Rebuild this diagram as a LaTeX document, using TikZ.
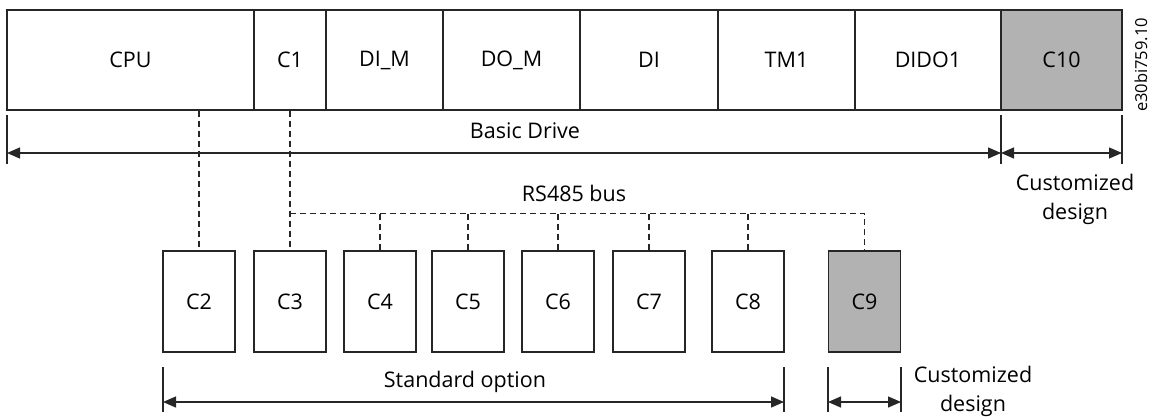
\documentclass[tikz,border=0pt]{standalone}
\usepackage{fontspec}
\setmainfont{Open Sans}
\usetikzlibrary{arrows.meta}
\begin{document}
\begin{tikzpicture}[x=1pt,y=-1pt,
  box/.style={draw=black!85,line width=1.1pt,inner sep=0pt,font=\fontsize{21.5}{24}\selectfont},
  topbox/.style={box,minimum height=100pt},
  botbox/.style={box,minimum width=72pt,minimum height=101pt},
  graybox/.style={fill=black!30},
  dsh/.style={draw=black!85,line width=1.1pt,dash pattern=on 6pt off 4pt},
  dim/.style={draw=black!85,line width=1.3pt,{Triangle[length=13pt,width=11pt]}-{Triangle[length=13pt,width=11pt]}},
  tick/.style={draw=black!85,line width=1.3pt},
  lbl/.style={inner sep=0pt,font=\fontsize{21.5}{29}\selectfont,align=center}]
\useasboundingbox (0,0) rectangle (1155,417);
% top row
\node[topbox,minimum width=247pt] (cpu) at (130.5,60) {CPU};
\node[topbox,minimum width=72pt] (c1) at (290,60) {C1};
\node[topbox,minimum width=117pt] (dim) at (384.5,60) {DI\_M};
\node[topbox,minimum width=137pt] (dom) at (511.5,60) {DO\_M};
\node[topbox,minimum width=138pt] (di) at (649,60) {DI};
\node[topbox,minimum width=137pt] (tm1) at (786.5,60) {TM1};
\node[topbox,minimum width=146pt] (dido1) at (928,60) {DIDO1};
\node[topbox,graybox,minimum width=121pt] (c10) at (1061.5,60) {C10};
\node[inner sep=0pt,rotate=90,font=\fontsize{16.5}{18}\selectfont] (code) at (1141,65) {e30bi759.10};
% bottom row
\node[botbox] (c2) at (199,301.5) {C2};
\node[botbox] (c3) at (290,301.5) {C3};
\node[botbox] (c4) at (380,301.5) {C4};
\node[botbox] (c5) at (468,301.5) {C5};
\node[botbox] (c6) at (558,301.5) {C6};
\node[botbox] (c7) at (649,301.5) {C7};
\node[botbox] (c8) at (748,301.5) {C8};
\node[botbox,graybox] (c9) at (864.5,301.5) {C9};
% dashed connectors
\coordinate (bus) at (0,213.5);
\draw[dsh] (c2.north |- cpu.south) -- (c2.north);
\draw[dsh] (c1.south) -- (c3.north);
\draw[dsh] (c3.north |- bus) -- (c9.north |- bus) -- (c9.north);
\foreach \n in {c4,c5,c6,c7,c8} \draw[dsh] (\n.north |- bus) -- (\n.north);
\node[lbl] (rs) at (574,193) {RS485 bus};
% basic drive dimension
\coordinate (bdL) at (7,153);
\coordinate (bdR) at (1001,153);
\coordinate (cdR) at (1122,153);
\draw[tick] (7,115) -- (7,164);
\draw[tick] (1001,115) -- (1001,164);
\draw[tick] (1122,115) -- (1122,164);
\draw[dim] (bdL) -- (bdR);
\draw[dim] (bdR) -- (cdR);
\node[lbl] (bd) at (525,131) {Basic Drive};
\node[lbl] (cd1) at (1075,199) {Customized\\design};
% standard option dimension
\coordinate (soL) at (163,402);
\coordinate (soR) at (784,402);
\coordinate (cdL2) at (828,402);
\coordinate (cdR2) at (901,402);
\draw[tick] (163,367) -- (163,412);
\draw[tick] (784,367) -- (784,412);
\draw[tick] (828,367) -- (828,412);
\draw[tick] (901,367) -- (901,412);
\draw[dim] (soL) -- (soR);
\draw[dim] (cdL2) -- (cdR2);
\node[lbl] (so) at (465,382) {Standard option};
\node[lbl] (cd2) at (973,391) {Customized\\design};
\end{tikzpicture}
\end{document}
